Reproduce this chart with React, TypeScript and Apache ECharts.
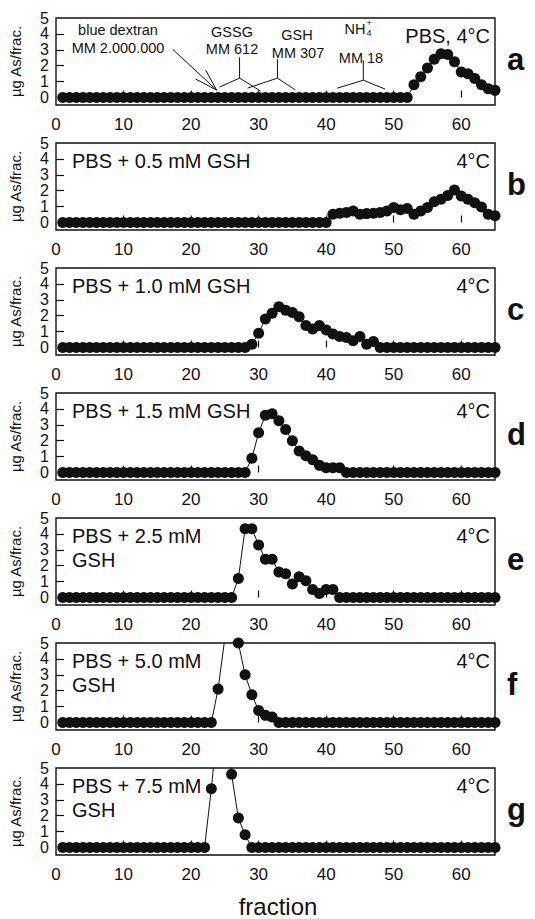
import React, { useEffect, useRef } from 'react';
import * as echarts from 'echarts';

const fractions = [1, 2, 3, 4, 5, 6, 7, 8, 9, 10, 11, 12, 13, 14, 15, 16, 17, 18, 19, 20, 21, 22, 23, 24, 25, 26, 27, 28, 29, 30, 31, 32, 33, 34, 35, 36, 37, 38, 39, 40, 41, 42, 43, 44, 45, 46, 47, 48, 49, 50, 51, 52, 53, 54, 55, 56, 57, 58, 59, 60, 61, 62, 63, 64, 65];

const panelA = [0, 0, 0, 0, 0, 0, 0, 0, 0, 0, 0, 0, 0, 0, 0, 0, 0, 0, 0, 0, 0, 0, 0, 0, 0, 0, 0, 0, 0, 0, 0, 0, 0, 0, 0, 0, 0, 0, 0, 0, 0, 0, 0, 0, 0, 0, 0, 0, 0, 0, 0, 0,
  0.8, 1.3, 1.85, 2.4, 2.75, 2.7, 2.25, 1.6, 1.5, 1.2, 0.8, 0.55, 0.45];
const panelB = [0, 0, 0, 0, 0, 0, 0, 0, 0, 0, 0, 0, 0, 0, 0, 0, 0, 0, 0, 0, 0, 0, 0, 0, 0, 0, 0, 0, 0, 0, 0, 0, 0, 0, 0, 0, 0, 0, 0, 0,
  0.52, 0.58, 0.63, 0.73, 0.52, 0.56, 0.58, 0.63, 0.73, 0.94, 0.8, 0.88, 0.52, 0.73, 0.94, 1.3, 1.46, 1.7, 2.04, 1.67, 1.46, 1.25, 0.98, 0.52, 0.42];
const panelC = [0, 0, 0, 0, 0, 0, 0, 0, 0, 0, 0, 0, 0, 0, 0, 0, 0, 0, 0, 0, 0, 0, 0, 0, 0, 0, 0, 0,
  0.2, 0.9, 1.8, 2.15, 2.56, 2.35, 2.2, 1.94, 1.38, 1.17, 1.38, 1.1, 0.85, 0.69, 0.63, 0.42, 0.69, 0.2, 0.38,
  0, 0, 0, 0, 0, 0, 0, 0, 0, 0, 0, 0, 0, 0, 0, 0, 0, 0];
const panelD = [0, 0, 0, 0, 0, 0, 0, 0, 0, 0, 0, 0, 0, 0, 0, 0, 0, 0, 0, 0, 0, 0, 0, 0, 0, 0, 0, 0,
  0.9, 2.5, 3.6, 3.7, 3.25, 2.7, 2.0, 1.35, 1.05, 0.8, 0.45, 0.3, 0.3, 0.3,
  0, 0, 0, 0, 0, 0, 0, 0, 0, 0, 0, 0, 0, 0, 0, 0, 0, 0, 0, 0, 0, 0, 0];
const panelE = [0, 0, 0, 0, 0, 0, 0, 0, 0, 0, 0, 0, 0, 0, 0, 0, 0, 0, 0, 0, 0, 0, 0, 0, 0, 0,
  1.2, 4.33, 4.33, 3.3, 2.4, 2.4, 1.6, 1.5, 0.85, 1.3, 1.05, 0.5, 0.25, 0.5, 0.5,
  0, 0, 0, 0, 0, 0, 0, 0, 0, 0, 0, 0, 0, 0, 0, 0, 0, 0, 0, 0, 0, 0, 0, 0];
const panelF = [0, 0, 0, 0, 0, 0, 0, 0, 0, 0, 0, 0, 0, 0, 0, 0, 0, 0, 0, 0, 0, 0, 0,
  2.1, 5.3, 6.0, 5.0, 3.0, 1.75, 0.75, 0.45, 0.35,
  0, 0, 0, 0, 0, 0, 0, 0, 0, 0, 0, 0, 0, 0, 0, 0, 0, 0, 0, 0, 0, 0, 0, 0, 0, 0, 0, 0, 0, 0, 0, 0, 0];
const panelG = [0, 0, 0, 0, 0, 0, 0, 0, 0, 0, 0, 0, 0, 0, 0, 0, 0, 0, 0, 0, 0, 0,
  3.7, 8.0, 8.0, 4.6, 1.85, 0.8,
  0, 0, 0, 0, 0, 0, 0, 0, 0, 0, 0, 0, 0, 0, 0, 0, 0, 0, 0, 0, 0, 0, 0, 0, 0, 0, 0, 0, 0, 0, 0, 0, 0, 0, 0, 0, 0];

const panels = [panelA, panelB, panelC, panelD, panelE, panelF, panelG];
const panelLetters = ['a', 'b', 'c', 'd', 'e', 'f', 'g'];
const leftTexts = [[], ['PBS + 0.5 mM GSH'], ['PBS + 1.0 mM GSH'], ['PBS + 1.5 mM GSH'], ['PBS + 2.5 mM', 'GSH'], ['PBS + 5.0 mM', 'GSH'], ['PBS + 7.5 mM', 'GSH']];
const rightTexts = ['PBS, 4°C', '4°C', '4°C', '4°C', '4°C', '4°C', '4°C'];
const xLabelValues = [0, 10, 20, 30, 40, 50, 60];
const xTickValues = [10, 20, 30, 40, 50, 60];
const yLabelValues = [0, 1, 2, 3, 4, 5];
const yTickValues = [1, 2, 3, 4];
const yAxisName = 'µg As/frac.';
const xAxisName = 'fraction';

// panel a markers (fraction, µg As/frac.)
const dextranArrow = [[17.28, 3.03], [23.78, 0.47]];
const dextranHead = [[22.16, 1.72], [23.78, 0.47], [20.68, 1.16]];
const gssgMarker = [[24.22, 0.66], [27.18, 1.22], [30.28, 0.41]];
const gssgStem = [[27.18, 2.53], [27.18, 1.22]];
const gshMarker = [[28.36, 0.59], [32.79, 1.22], [35.45, 0.47]];
const gshStem = [[32.79, 2.41], [32.79, 1.22]];
const nh4Marker = [[41.65, 0.59], [45.5, 1.09], [48.74, 0.53]];
const nh4Stem = [[45.5, 2.34], [45.5, 1.09]];
const markerLines = [dextranArrow, dextranHead, gssgMarker, gssgStem, gshMarker, gshStem, nh4Marker, nh4Stem];

const FONT = '"Liberation Sans", Arial, Helvetica, sans-serif';
const INK = '#111';

export default function App() {
  const ref = useRef<HTMLDivElement>(null);
  useEffect(() => {
    if (!ref.current) return;
    const chart = echarts.init(ref.current, undefined, { renderer: 'svg' });
    const GRID_TOP = 18;
    const STEP = 125;
    const H = 87;
    const LEFT = 55;
    const RIGHT = 40;

    const grids: any[] = [];
    const xAxes: any[] = [];
    const yAxes: any[] = [];
    const series: any[] = [];
    const graphics: any[] = [];

    panels.forEach((vals, i) => {
      const top = GRID_TOP + STEP * i;
      grids.push({ left: LEFT, right: RIGHT, top, height: H, show: true, borderColor: INK, borderWidth: 1.4, backgroundColor: 'transparent' });
      xAxes.push({
        type: 'value', gridIndex: i, min: 0, max: 65,
        axisLine: { show: false },
        splitLine: { show: false },
        axisTick: { show: true, inside: true, length: 7, customValues: xTickValues, lineStyle: { color: INK, width: 1.2 } },
        axisLabel: { customValues: xLabelValues, margin: 11, fontSize: 17, color: INK, fontFamily: FONT },
      });
      yAxes.push({
        type: 'value', gridIndex: i, min: -0.47, max: 5,
        name: yAxisName, nameLocation: 'middle', nameGap: 33, nameRotate: 90,
        nameTextStyle: { fontSize: 15, color: INK, fontFamily: FONT },
        axisLine: { show: false },
        splitLine: { show: false },
        axisTick: { show: true, inside: true, length: 8, customValues: yTickValues, lineStyle: { color: INK, width: 1.2 } },
        axisLabel: { customValues: yLabelValues, margin: 7, fontSize: 16, color: INK, fontFamily: FONT, lineHeight: 15 },
      });
      series.push({
        type: 'line', xAxisIndex: i, yAxisIndex: i,
        data: vals.map((v, k) => [fractions[k], v]),
        symbol: 'circle', symbolSize: 11, showAllSymbol: true, clip: true,
        itemStyle: { color: INK },
        lineStyle: { color: INK, width: 1 },
        z: 3,
      });
      graphics.push({
        type: 'text', left: 507, top: top + H / 2 - 18,
        style: { text: panelLetters[i], fontSize: 31, fontWeight: 'bold', fontFamily: FONT, fill: INK },
      });
      graphics.push({
        type: 'text', x: 490, y: top + 18,
        style: { text: rightTexts[i], fontSize: 20, fontFamily: FONT, fill: INK, align: 'right', verticalAlign: 'middle' },
      });
      leftTexts[i].forEach((t, j) => {
        graphics.push({
          type: 'text', x: 72, y: top + 18 + j * 24,
          style: { text: t, fontSize: 20, fontFamily: FONT, fill: INK, align: 'left', verticalAlign: 'middle' },
        });
      });
    });

    markerLines.forEach((pts) => {
      series.push({
        type: 'line', xAxisIndex: 0, yAxisIndex: 0, data: pts, symbol: 'none',
        lineStyle: { color: INK, width: 1 }, silent: true, z: 2,
      });
    });

    const annText = (text: string, x: number, y: number, size = 14.5) => ({
      type: 'text', x, y,
      style: { text, fontSize: size, fontFamily: FONT, fill: INK, align: 'center', verticalAlign: 'middle' },
    });
    graphics.push(annText('blue dextran', 118, 30));
    graphics.push(annText('MM 2.000.000', 118, 48));
    graphics.push(annText('GSSG', 232, 32));
    graphics.push(annText('MM 612', 232, 49));
    graphics.push(annText('GSH', 297, 35));
    graphics.push(annText('MM 307', 298, 53));
    graphics.push(annText('NH', 355, 29));
    graphics.push(annText('4', 369, 33, 9));
    graphics.push(annText('+', 369, 23, 9));
    graphics.push(annText('MM 18', 361, 58));
    graphics.push({
      type: 'text', x: 278, y: 906,
      style: { text: xAxisName, fontSize: 24, fontFamily: FONT, fill: INK, align: 'center', verticalAlign: 'middle' },
    });

    chart.setOption({
      animation: false,
      backgroundColor: '#fff',
      grid: grids,
      xAxis: xAxes,
      yAxis: yAxes,
      series,
      graphic: graphics,
    });
    return () => chart.dispose();
  }, []);
  return <div ref={ref} style={{ position: 'absolute', left: 0, top: 0, width: 535, height: 919 }} />;
}
